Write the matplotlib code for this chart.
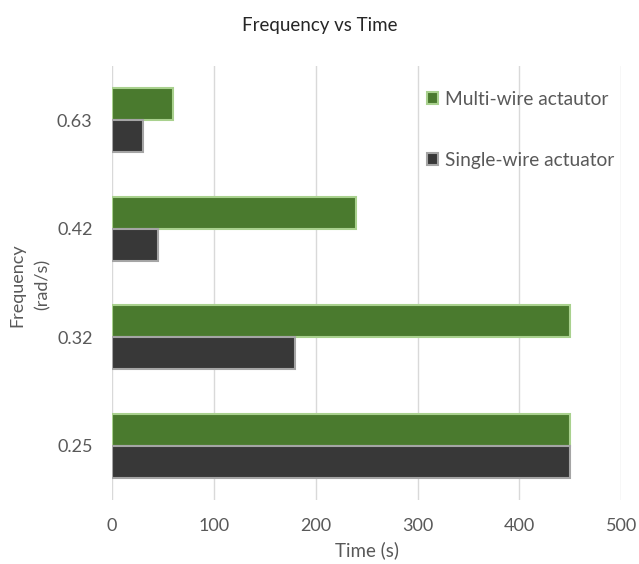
import numpy as np
import matplotlib
matplotlib.use("Agg")
import matplotlib.pyplot as plt

plt.rcParams['font.family'] = ['Lato', 'DejaVu Sans']

# frequency groups (bottom to top) and time for each actuator
freqs = ["0.25", "0.32", "0.42", "0.63"]
multi_wire = [450, 450, 240, 60]
single_wire = [450, 180, 45, 30]
xticks = [0, 100, 200, 300, 400, 500]

green = "#4a7a2e"
green_edge = "#a9d18e"
dark = "#383838"
dark_edge = "#a5a5a5"
txt = "#595959"

fig = plt.figure(figsize=(6.39, 5.64), dpi=100)
ax = fig.add_axes([0.1753, 0.113, 0.797, 0.770])

y = np.arange(len(freqs))
h = 0.295
ax.barh(y + h / 2, multi_wire, height=h, color=green, edgecolor=green_edge,
        linewidth=1.5, label="Multi-wire actautor", zorder=3)
ax.barh(y - h / 2, single_wire, height=h, color=dark, edgecolor=dark_edge,
        linewidth=1.5, label="Single-wire actuator", zorder=3)

ax.set_xlim(0, 500)
ax.set_ylim(-0.5, 3.5)
ax.set_xticks(xticks)
ax.set_yticks(y)
ax.set_yticklabels(freqs)
ax.tick_params(axis='both', length=0, labelsize=13, colors=txt)
ax.tick_params(axis='x', pad=13)
ax.tick_params(axis='y', pad=14)
ax.grid(axis='x', color="#d9d9d9", linewidth=1, zorder=0)
for s in ax.spines.values():
    s.set_visible(False)

ax.set_xlabel("Time (s)", fontsize=13.5, color=txt, labelpad=5)
fig.text(0.047, 0.495, "Frequency\n(rad/s)", rotation=90, ha='center',
         va='center', multialignment='center', fontsize=13, color=txt,
         linespacing=1.65)
fig.suptitle("Frequency vs Time", y=0.97, fontsize=13.5, color="#262626")

leg = ax.legend(loc='upper left', bbox_to_anchor=(0.585, 0.983), frameon=False,
                fontsize=13.8, labelspacing=2.3, handlelength=0.57,
                handleheight=0.57, handletextpad=0.35, labelcolor=txt)

fig.savefig("out.png", dpi=100, facecolor="white")
